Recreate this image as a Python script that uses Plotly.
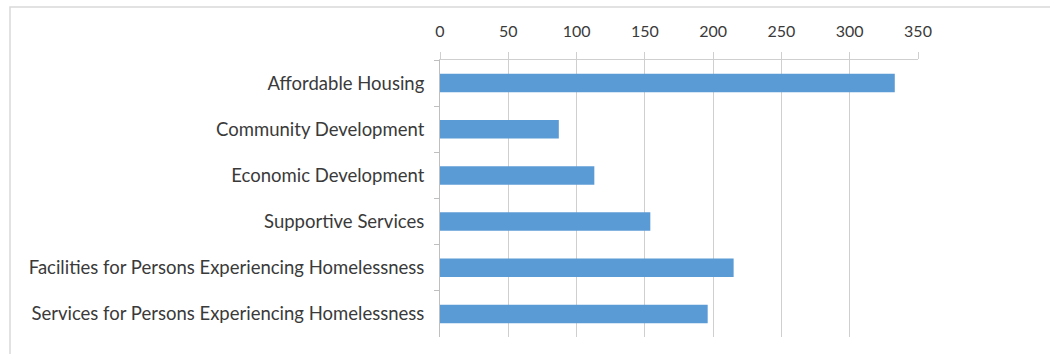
import plotly.graph_objects as go

categories = [
    "Affordable Housing",
    "Community Development",
    "Economic Development",
    "Supportive Services",
    "Facilities for Persons Experiencing Homelessness",
    "Services for Persons Experiencing Homelessness",
]
values = [333, 87, 113, 154, 215, 196]
x_ticks = [0, 50, 100, 150, 200, 250, 300, 350]

W, H = 1050, 354
L, R, T, B = 440, 132, 60, 17
plot_w = W - L - R
plot_h = H - T - B

grid = "#CFCFCF"
text_col = "#3A3A3A"
font_family = "Lato, 'Open Sans', sans-serif"

fig = go.Figure(
    go.Bar(
        x=values,
        y=categories,
        orientation="h",
        width=0.4,
        marker=dict(color="#5B9BD5", line=dict(width=0)),
    )
)

fig.update_layout(
    width=W,
    height=H,
    margin=dict(l=L, r=R, t=T, b=B, pad=0),
    paper_bgcolor="white",
    plot_bgcolor="white",
    showlegend=False,
    font=dict(family=font_family, color=text_col, size=15),
    xaxis=dict(
        side="top",
        range=[0, 350],
        tickvals=x_ticks,
        ticktext=[str(v) for v in x_ticks],
        showgrid=True,
        gridcolor=grid,
        gridwidth=1,
        zeroline=False,
        showline=True,
        linecolor=grid,
        ticks="outside",
        ticklen=7,
        tickcolor=grid,
        ticklabelstandoff=9,
        tickfont=dict(size=16, color=text_col),
        fixedrange=True,
    ),
    yaxis=dict(
        categoryorder="array",
        categoryarray=categories,
        autorange="reversed",
        showgrid=False,
        zeroline=False,
        showline=True,
        linecolor="#BFBFBF",
        ticks="outside",
        tickson="boundaries",
        ticklen=5,
        tickcolor="#BFBFBF",
        ticklabelstandoff=11,
        tickfont=dict(size=18.5, color=text_col),
        fixedrange=True,
    ),
    shapes=[
        dict(
            type="rect",
            xref="paper",
            yref="paper",
            x0=(10 - L) / plot_w,
            x1=(W + 20 - L) / plot_w,
            y0=-(B + 20) / plot_h,
            y1=(H - B - 7) / plot_h,
            line=dict(color="#D9D9D9", width=1.5),
            fillcolor="rgba(0,0,0,0)",
            layer="below",
        )
    ],
)

fig.write_html("out.html")
